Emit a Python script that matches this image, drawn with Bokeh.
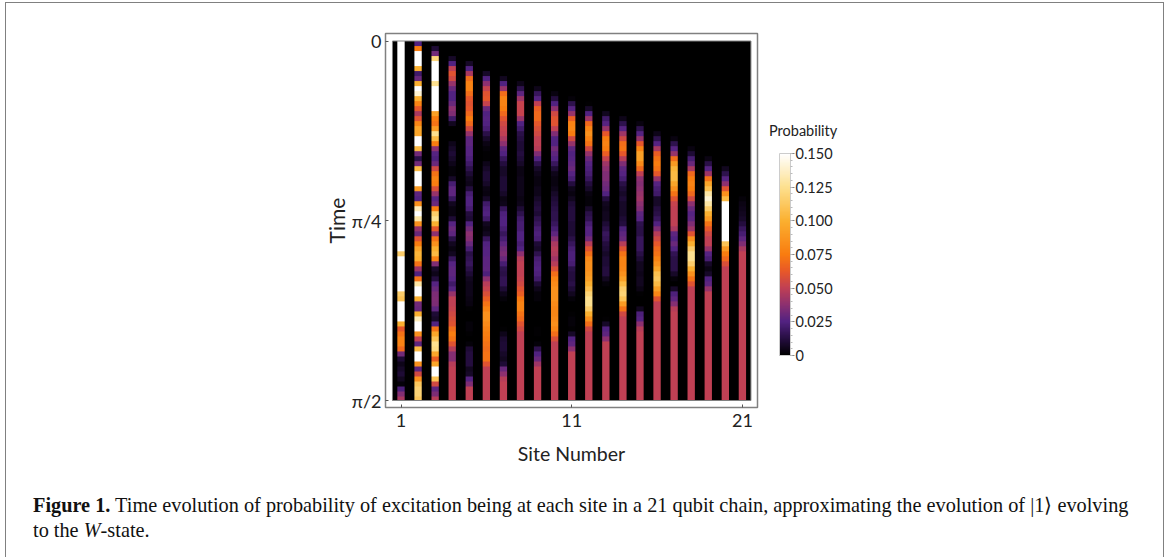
import math
import numpy as np
from bokeh.plotting import figure
from bokeh.embed import file_html
from bokeh.resources import INLINE
from bokeh.layouts import column
from bokeh.models import (LinearColorMapper, ColorBar, FixedTicker, Div, InlineStyleSheet,
                          Range1d, NumeralTickFormatter)

site_01 = [160]*41 + [150,115,150,160,160,160,160,160,160,115,110,150,160,160,160,100,62,72,78,78,68,32,10,5,8,10,6,2,24,36,45]
site_02 = [25,75,150,160,160,100,20,30,100,150,140,100,78,62,45,60,80,95,95,150,155,105,32,14,32,105,150,160,160,90,28,25,85,135,150,130,85,40,30,60,75,95,102,100,72,42,25,72,130,155,155,100,32,30,100,135,155,155,85,50,28,105,150,155,85,28,55,85,112,118,118,112]
site_03 = [0,10,32,120,155,160,160,150,125,150,160,160,160,155,92,75,72,90,125,105,75,38,26,24,30,55,72,78,76,58,40,26,30,75,115,125,100,62,38,72,85,100,105,78,35,8,5,12,26,30,34,35,34,28,10,8,25,72,95,110,125,122,95,65,95,150,155,110,55,28,34,48]
site_04 = [0,0,0,8,25,50,60,55,40,30,25,25,30,38,35,20,6,0,0,0,5,8,10,8,5,2,2,8,22,28,28,18,6,3,3,10,26,30,28,14,6,3,6,18,26,28,28,26,20,26,40,50,50,52,55,58,60,70,76,72,60,48,36,36,48,50,50,50,50,50,50,50]
site_05 = [0,0,0,0,8,25,45,70,78,78,70,62,60,62,68,75,68,55,40,28,28,26,26,24,20,15,10,6,5,12,22,25,25,22,12,10,25,32,38,36,30,22,14,16,18,14,10,6,5,5,5,4,3,1,0,0,2,2,1,0,2,10,12,12,12,6,8,26,35,50,50,50]
site_06 = [0,0,0,0,0,0,8,25,38,52,60,62,52,30,25,26,25,22,14,8,4,2,1,1,5,8,10,10,8,4,3,8,20,24,25,20,6,4,6,18,25,26,26,27,27,28,24,38,48,52,58,65,72,78,85,85,82,78,76,74,72,70,72,72,60,50,50,50,50,50,50,50]
site_07 = [0,0,0,0,0,0,0,6,25,40,70,78,78,75,68,60,55,52,50,45,38,28,25,18,12,8,8,10,10,10,8,4,5,18,24,25,25,22,18,22,28,32,34,30,22,15,14,16,16,10,5,2,0,0,0,0,0,1,5,9,10,10,8,6,10,30,38,48,50,50,50,50]
site_08 = [0,0,0,0,0,0,0,0,5,15,28,42,52,52,52,40,25,20,14,12,10,10,12,10,8,4,4,5,5,5,5,4,5,10,15,20,22,22,25,25,22,25,38,48,50,50,50,52,55,60,65,74,78,78,72,68,60,55,50,50,50,50,50,50,50,50,50,50,50,50,50,50]
site_09 = [0,0,0,0,0,0,0,0,0,5,18,26,50,65,68,68,62,58,55,50,50,48,35,25,15,8,5,3,3,5,5,8,10,12,10,15,18,22,24,22,10,8,15,22,24,25,24,20,10,5,2,2,0,0,0,0,0,1,1,0,2,15,25,30,42,50,50,50,50,50,50,50]
site_10 = [0,0,0,0,0,0,0,0,0,0,3,12,25,38,55,60,60,50,35,25,25,32,28,25,18,10,5,3,3,5,8,10,12,14,15,15,18,22,28,36,45,48,46,42,48,58,70,78,82,85,85,85,82,80,80,82,84,80,70,58,50,50,50,50,50,50,50,50,50,50,50,50]
site_11 = [0,0,0,0,0,0,0,0,0,0,0,2,15,26,40,65,78,80,75,55,40,28,25,26,28,30,26,22,12,5,3,6,10,12,12,12,10,10,10,14,18,22,24,24,22,14,12,12,14,10,6,2,0,0,1,2,2,1,8,25,28,38,50,50,50,50,50,50,50,50,50,50]
site_12 = [0,0,0,0,0,0,0,0,0,0,0,0,1,8,25,42,68,80,85,78,72,55,40,30,26,24,22,18,12,8,3,2,2,8,14,16,22,26,26,32,48,60,70,82,85,85,88,92,100,108,118,125,125,115,100,85,70,55,50,50,50,50,50,50,50,50,50,50,50,50,50,50]
site_13 = [0,0,0,0,0,0,0,0,0,0,0,0,0,0,6,20,26,40,62,76,78,75,65,52,42,38,35,35,32,30,25,12,6,5,6,6,10,14,18,16,12,10,8,10,10,12,12,6,2,0,0,0,0,0,0,1,8,25,28,38,50,50,50,50,50,50,50,50,50,50,50,50]
site_14 = [0,0,0,0,0,0,0,0,0,0,0,0,0,0,0,5,15,26,42,55,70,72,62,48,35,28,26,22,14,10,8,10,8,8,8,10,12,24,28,30,48,60,72,78,78,80,85,92,105,115,118,110,90,72,55,50,50,50,50,50,50,50,50,50,50,50,50,50,50,50,50,50]
site_15 = [0,0,0,0,0,0,0,0,0,0,0,0,0,0,0,0,3,15,26,40,62,78,92,92,82,68,50,38,36,38,40,42,38,35,28,26,15,14,14,18,18,18,14,10,6,6,5,6,6,4,1,0,0,6,24,26,38,48,50,50,50,50,50,50,50,50,50,50,50,50,50,50]
site_16 = [0,0,0,0,0,0,0,0,0,0,0,0,0,0,0,0,0,0,5,15,26,45,65,72,75,72,62,40,26,22,20,8,8,12,14,18,25,35,48,55,62,68,72,78,85,95,108,112,105,92,80,60,50,50,50,50,50,50,50,50,50,50,50,50,50,50,50,50,50,50,50,50]
site_17 = [0,0,0,0,0,0,0,0,0,0,0,0,0,0,0,0,0,0,0,3,15,26,40,70,90,102,105,105,95,85,72,60,52,50,50,50,50,45,28,25,30,25,16,14,14,14,8,2,0,8,24,28,36,48,50,50,50,50,50,50,50,50,50,50,50,50,50,50,50,50,50,50]
site_18 = [0,0,0,0,0,0,0,0,0,0,0,0,0,0,0,0,0,0,0,0,0,3,10,22,30,45,68,75,78,75,68,55,38,30,26,28,35,42,60,85,100,115,125,125,115,100,85,72,60,50,50,50,50,50,50,50,50,50,50,50,50,50,50,50,50,50,50,50,50,50,50,50]
site_19 = [0,0,0,0,0,0,0,0,0,0,0,0,0,0,0,0,0,0,0,0,0,0,0,4,14,26,42,72,95,108,130,140,130,115,100,90,72,62,55,50,50,40,26,22,8,4,8,25,28,40,50,50,50,50,50,50,50,50,50,50,50,50,50,50,50,50,50,50,50,50,50,50]
site_20 = [0,0,0,0,0,0,0,0,0,0,0,0,0,0,0,0,0,0,0,0,0,0,0,0,0,6,15,26,38,60,85,105,155,160,160,160,160,160,160,160,110,90,75,68,58,50,50,50,50,50,50,50,50,50,50,50,50,50,50,50,50,50,50,50,50,50,50,50,50,50,50,50]
site_21 = [0,0,0,0,0,0,0,0,0,0,0,0,0,0,0,0,0,0,0,0,0,0,0,0,0,0,0,0,0,0,0,2,4,5,6,8,12,18,22,28,35,45,50,50,50,50,50,50,50,50,50,50,50,50,50,50,50,50,50,50,50,50,50,50,50,50,50,50,50,50,50,50]

sites = [site_01,site_02,site_03,site_04,site_05,site_06,site_07,site_08,site_09,site_10,site_11,
         site_12,site_13,site_14,site_15,site_16,site_17,site_18,site_19,site_20,site_21]
for i, s in enumerate(sites):
    assert len(s) == 72, (i+1, len(s))

x_ticks = [1, 11, 21]
y_ticks = [0, math.pi/4, math.pi/2]
y_labels = ["0", "π/4", "π/2"]
bar_ticks = [0, 0.025, 0.05, 0.075, 0.1, 0.125, 0.15]
caption = ("<b>Figure 1.</b> Time evolution of probability of excitation being at each site in a 21 qubit chain, "
           "approximating the evolution of |1⟩ evolving<br>to the <i>W</i>-state.")

anchors = [(0,(0,0,0)),(.0125,(38,14,66)),(.025,(82,34,130)),(.0375,(140,48,112)),(.05,(192,64,84)),
           (.0625,(232,88,40)),(.075,(249,124,16)),(.1,(251,176,48)),(.125,(253,224,142)),(.15,(255,255,255))]
palette = []
for k in range(256):
    v = k/255*0.15
    for (a,ca),(b,cb) in zip(anchors, anchors[1:]):
        if v <= b:
            f = (v-a)/(b-a)
            palette.append("#%02x%02x%02x" % tuple(int(round(p+(q-p)*f)) for p,q in zip(ca,cb)))
            break
mapper = LinearColorMapper(palette=palette, low=0, high=0.15)

px_site = 17.07
px_t = (math.pi/2)/359.5
W, H = 1168, 557
FIG_H = 470
L, R, T, B = 385, 757, 33, 407
p = figure(width=W, height=FIG_H, output_backend="svg", toolbar_location=None,
           x_range=Range1d(1+(L-400.5)/px_site, 1+(R-400.5)/px_site),
           y_range=Range1d((B-40.5)*px_t, (T-40.5)*px_t),
           min_border_left=L, min_border_right=W-R, min_border_top=T, min_border_bottom=FIG_H-B)
p.grid.visible = False
p.outline_line_color = "#808080"
p.outline_line_width = 1.5
p.background_fill_color = "white"
p.border_fill_color = "white"

p.quad(left=[0.5], right=[21.5], top=[0], bottom=[math.pi/2], fill_color="black", line_color=None)
p.image(image=[np.array(s, dtype=float).reshape(72, 1)/1000 for s in sites],
        x=[i+1-0.215 for i in range(21)], y=[0]*21, dw=[0.43]*21, dh=[math.pi/2]*21,
        color_mapper=mapper)
p.quad(left=[0.5], right=[21.5], top=[0], bottom=[math.pi/2], fill_alpha=0, line_color="#808080", line_width=1)

FONT = "Lato"
xa = p.xaxis[0]
xa.ticker = FixedTicker(ticks=x_ticks)
xa.axis_label = "Site Number"
ya = p.yaxis[0]
ya.ticker = FixedTicker(ticks=y_ticks)
ya.major_label_overrides = {float(k): l for k, l in zip(y_ticks, y_labels)}
ya.major_label_overrides[0] = "0"
ya.axis_label = "Time"
for a in (xa, ya):
    a.axis_line_color = None
    a.major_tick_line_color = "#555555"
    a.major_tick_in = 3
    a.major_tick_out = 0
    a.minor_tick_line_color = None
    a.major_label_text_font = FONT
    a.major_label_text_font_size = "18px"
    a.major_label_text_color = "#222222"
    a.axis_label_text_font = FONT
    a.axis_label_text_font_style = "normal"
    a.axis_label_text_color = "#222222"
xa.axis_label_text_font_size = "19.5px"
ya.axis_label_text_font_size = "21px"
xa.major_label_standoff = 6
xa.axis_label_standoff = 12
ya.major_label_standoff = 4
ya.axis_label_standoff = 0

cb = ColorBar(color_mapper=mapper, ticker=FixedTicker(ticks=bar_ticks, minor_ticks=[i*0.005 for i in range(31)]),
              formatter=NumeralTickFormatter(format="0.000"), major_label_overrides={0: "0"},
              location=(779-L, B-355), width=11, height=202, padding=0, margin=0,
              major_tick_in=0, major_tick_out=4, major_tick_line_color="#888888",
              minor_tick_in=0, minor_tick_out=2, minor_tick_line_color="#bbbbbb",
              major_label_text_font=FONT, major_label_text_font_size="14.5px", major_label_text_color="#222222",
              label_standoff=1, bar_line_color="#cccccc", background_fill_color=None, border_line_color=None)
p.add_layout(cb, "center")

prob = Div(text="Probability", width=90, height=20, margin=0,
           styles={"position": "absolute", "left": "769px", "top": "121px", "font-family": FONT,
                   "font-size": "14.5px", "color": "#222222", "z-index": "5", "white-space": "nowrap"})
cap = Div(text=caption, width=1130, height=60, margin=0,
          styles={"position": "absolute", "left": "33px", "top": "493px", "font-family": "Liberation Serif",
                  "font-size": "20.3px", "line-height": "25px", "color": "#111111", "z-index": "5", "white-space": "nowrap"})

page = column(p, prob, cap, width=W, height=H, spacing=0, margin=0)
page.stylesheets = [InlineStyleSheet(css=":host{position:relative;}"
                                         ":host::after{content:'';position:absolute;left:5px;top:2px;width:1159px;height:555px;"
                                         "border:1.5px solid #808080;border-bottom:none;z-index:10;pointer-events:none;box-sizing:border-box;}")]

open("out.html", "w").write(file_html(page, INLINE))
